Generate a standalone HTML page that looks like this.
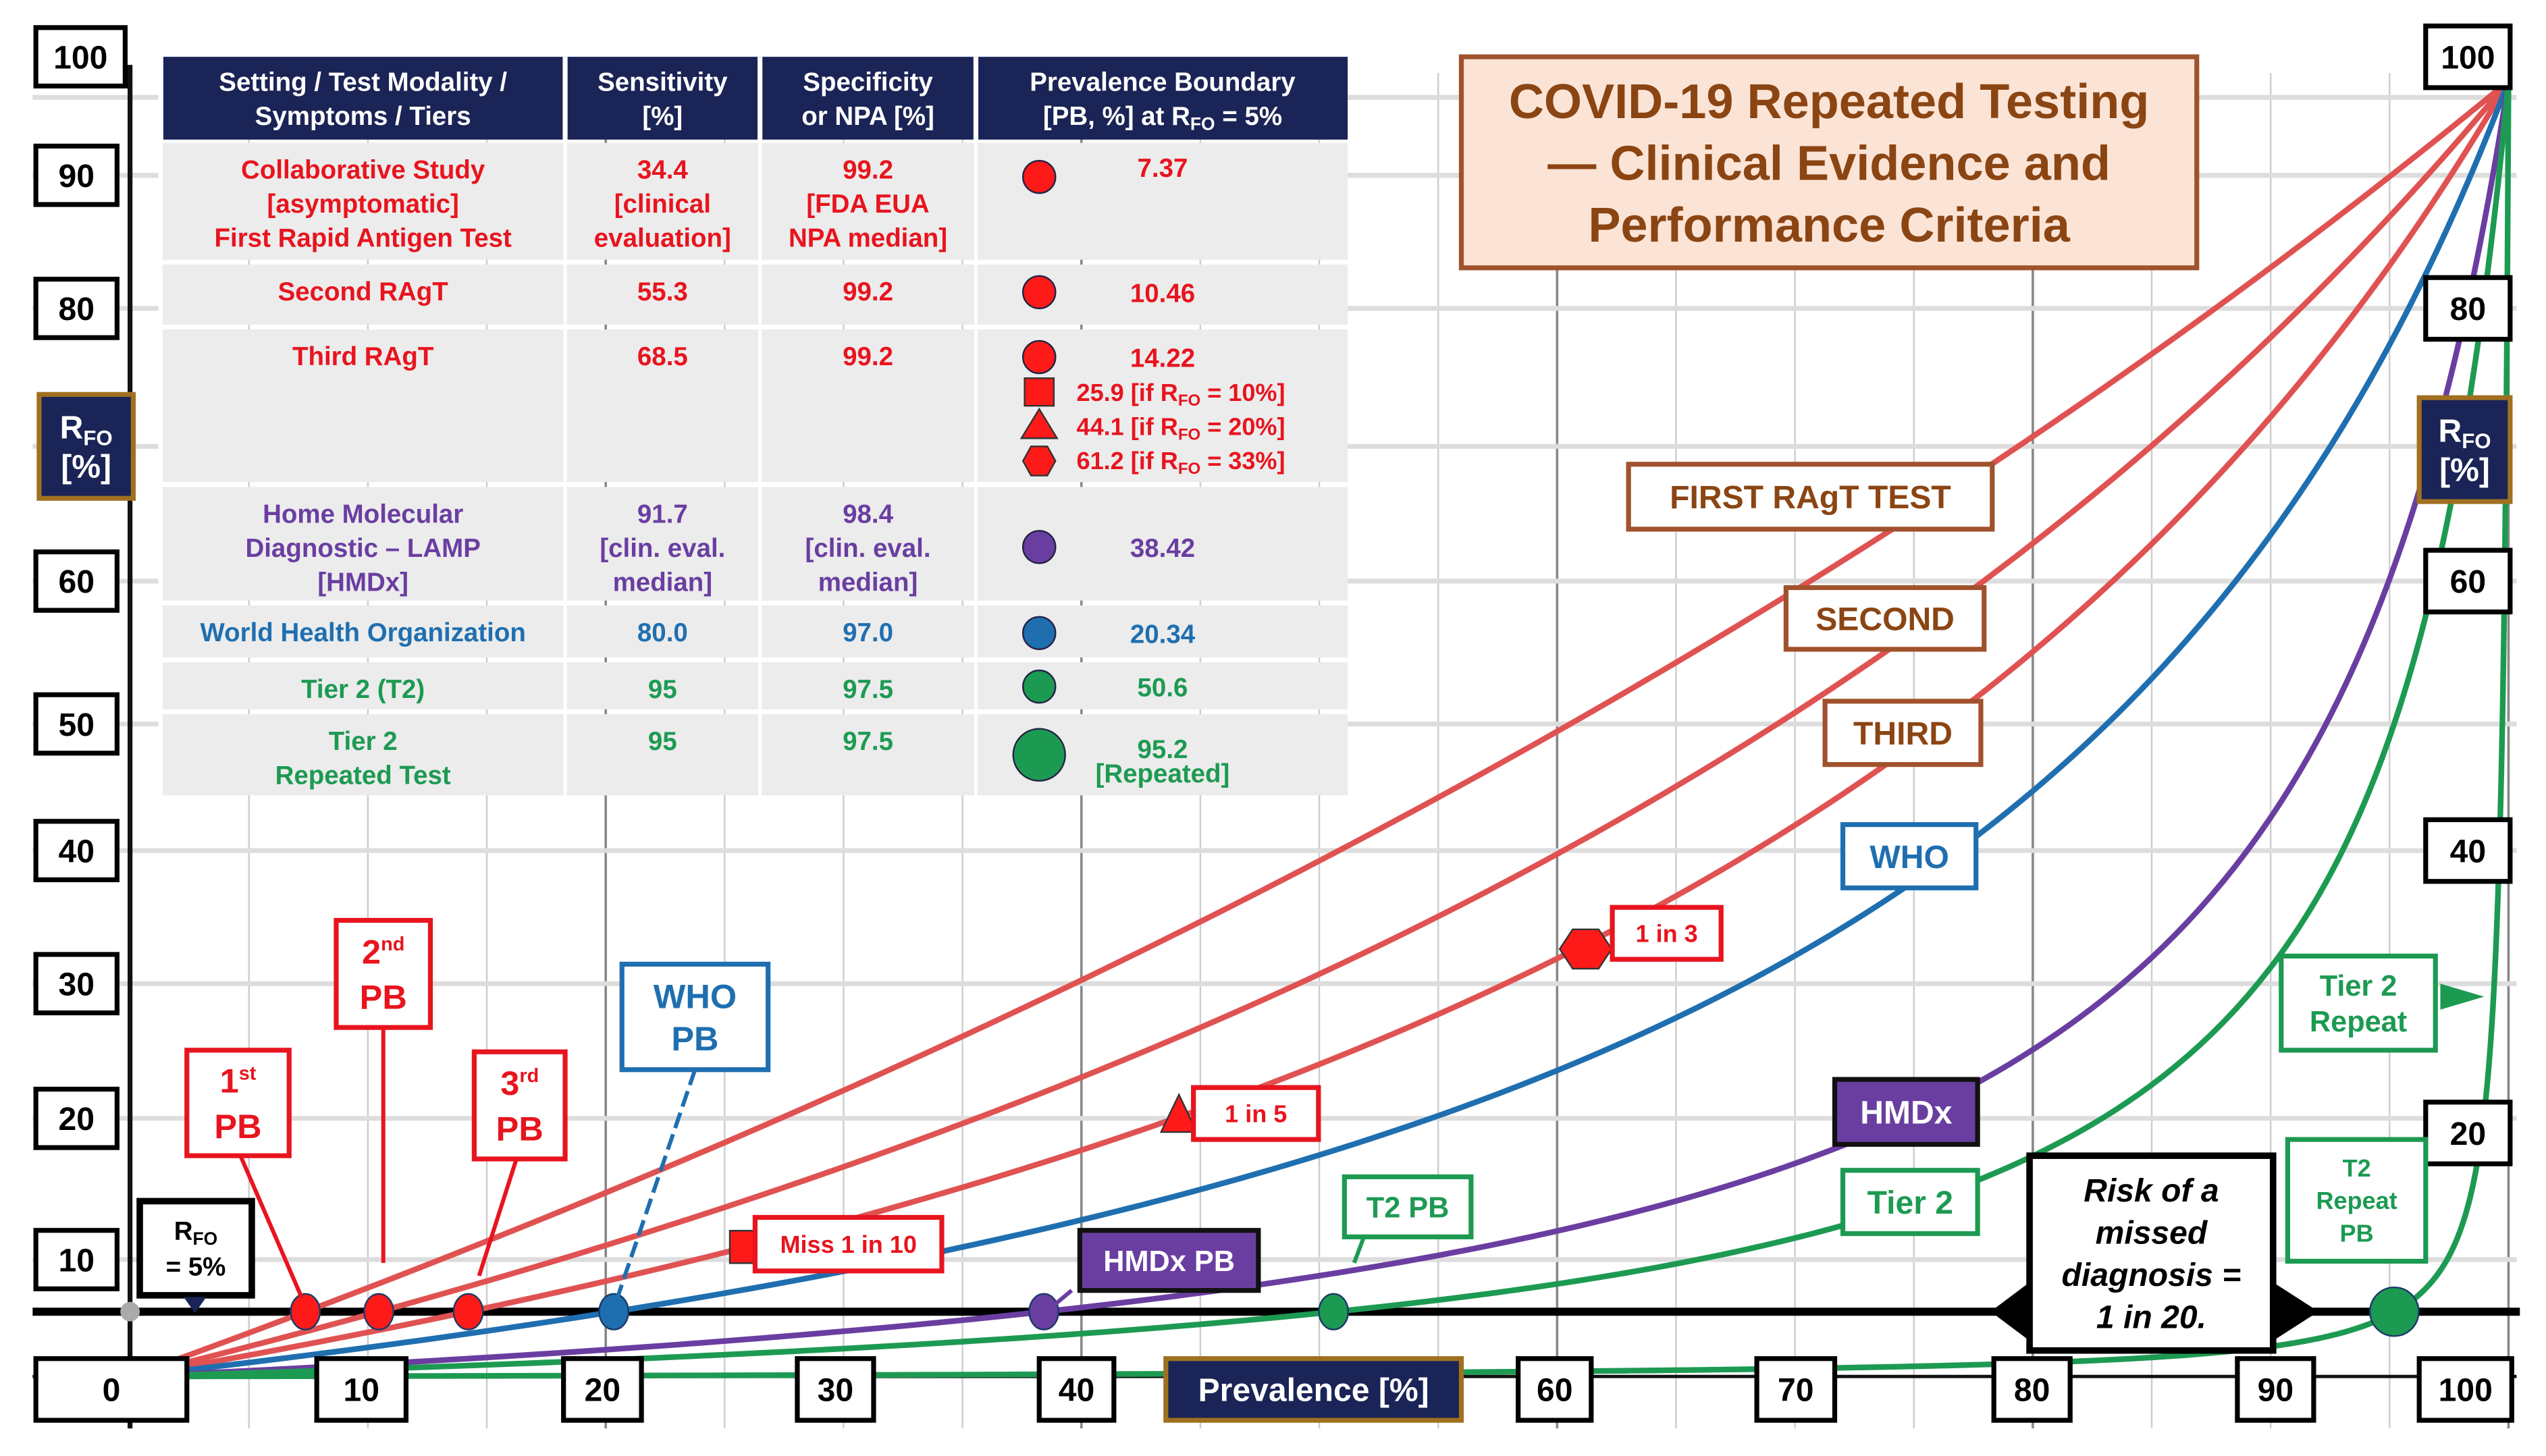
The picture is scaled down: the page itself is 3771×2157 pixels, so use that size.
<!DOCTYPE html>
<html><head><meta charset="utf-8"><style>
html,body{margin:0;padding:0;background:#fff}
svg{display:block}
text{font-family:"Liberation Sans",Arial,sans-serif;font-weight:bold}
</style></head><body>
<svg id="chart" xmlns="http://www.w3.org/2000/svg" width="3771" height="2157" viewBox="0 0 1568 897">
<g id="grid"></g>
<g id="curves"></g>
<g id="overlay"></g>
</svg>
<script>
const tests = ["First RAgT","Second RAgT","Third RAgT","WHO","HMDx","Tier 2","Tier 2 Repeated"];
const sensitivity = [34.4,55.3,68.5,80.0,91.7,95,99.75];
const specificity = [99.2,99.2,99.2,97.0,98.4,97.5,95.06];
const boundaries = [7.37,10.46,14.22,20.34,38.42,50.6,95.2];
const colors = ["#e05252","#e05252","#e05252","#1f6fb0","#6a3ea1","#1d9a52","#1d9a52"];
const rfoLine = 5;
const extraPrev = [25.9,44.1,61.2];
const extraRfo = [10,20,33];
const xTicks = [0,10,20,30,40,60,70,80,90,100];

const NS="http://www.w3.org/2000/svg";
const X=p=>80+p*14.65;
const Y=r=>848-r*7.98;
function el(tag,attrs,parent,txt){const e=document.createElementNS(NS,tag);for(const k in attrs)e.setAttribute(k,attrs[k]);if(txt!==undefined)e.textContent=txt;parent.appendChild(e);return e;}
const grid=document.getElementById('grid'),curves=document.getElementById('curves'),ov=document.getElementById('overlay');

// grid
for(let p=0;p<=100;p+=5){
  const g=el('line',{x1:X(p),x2:X(p),y1:45,y2:880,stroke:p%20===0?'#888':'#ccc','stroke-width':p%20===0?1.5:1},grid);
  
  
}
[60,108,190,275,358,446,524,606,689,776].forEach(y=>{
  const g=el('line',{x1:20,x2:1550,y1:y,y2:y,stroke:'#ddd','stroke-width':3},grid);
  
  
});
el('line',{x1:80,x2:80,y1:40,y2:880,stroke:'#111','stroke-width':3},grid);
el('line',{x1:20,x2:1550,y1:Y(0),y2:Y(0),stroke:'#111','stroke-width':2},grid);
const rl=el('line',{x1:20,x2:1552,y1:Y(rfoLine),y2:Y(rfoLine),stroke:'#000','stroke-width':5},grid);


el('circle',{cx:80,cy:Y(rfoLine),r:6,fill:'#aaa'},grid);

// curves
function rfo(p,se,sp){const q=p/100;const fn=q*(1-se/100),tn=(1-q)*sp/100;return (fn+tn)===0?100:100*fn/(fn+tn);}
tests.forEach((t,i)=>{
  let d='';const pts=[];
  for(let p=0;p<=100.0001;p+=(p<90?0.5:0.05)){pts.push([X(p),Y(rfo(p,sensitivity[i],specificity[i]))]);}
  pts.forEach((pt,j)=>d+=(j?'L':'M')+pt[0].toFixed(2)+' '+pt[1].toFixed(2));
  const c=el('path',{d:d,fill:'none',stroke:colors[i],'stroke-width':3.5},curves);
  
  
});
// PB markers
boundaries.forEach((b,i)=>{
  const m=el('ellipse',{cx:X(b),cy:Y(rfoLine),rx:i===6?15:9,ry:i===6?15:11,fill:colors[i]==="#e05252"?"#ff1a1a":colors[i],stroke:'#1a3a6a','stroke-width':1},curves);
  
  
});
// extra third-test markers
const sq=el('rect',{x:X(extraPrev[0])-10,y:Y(extraRfo[0])-10,width:20,height:20,fill:'#ff1a1a',stroke:'#333'},curves);


const tx=X(extraPrev[1]),ty=Y(extraRfo[1]);
const tr=el('polygon',{points:`${tx},${ty-14} ${tx-11},${ty+9} ${tx+11},${ty+9}`,fill:'#ff1a1a',stroke:'#333'},curves);


const hx=X(extraPrev[2]),hy=Y(extraRfo[2]);
let hp='';for(let k=0;k<6;k++){const a=Math.PI/3*k;hp+=(hx+16*Math.cos(a))+','+(hy+14*Math.sin(a))+' ';}
const hg=el('polygon',{points:hp,fill:'#ff1a1a',stroke:'#333'},curves);



// helper for labelled boxes
function box(name,x,y,w,h,lines,opt){
  const g=el('g',{},ov);
  
  
  el('rect',{x:x,y:y,width:w,height:h,fill:opt.fill||'#fff',stroke:opt.stroke||'#000','stroke-width':opt.sw||3},g);
  const fs=opt.fs||20,lh=opt.lh||fs*1.15;
  const y0=y+h/2-(lines.length-1)*lh/2+fs*0.36;
  lines.forEach((l,k)=>{const t=el('text',{x:x+w/2,y:y0+k*lh,'font-size':fs,fill:opt.color||'#000','text-anchor':'middle','font-style':opt.italic?'italic':'normal'},g);t.innerHTML=l;});
  return g;
}
// y-axis labels
[[100,35,55],[90,108,50],[80,190,50],[60,358,50],[50,446,50],[40,524,50],[30,606,50],[20,689,50],[10,776,50]].forEach(a=>box('y-tick-'+a[0],22,a[1]-18,a[2],36,[String(a[0])],{fs:20}));
[[100,35],[80,190],[60,358],[40,524],[20,698]].forEach(a=>box('y-tick-right-'+a[0],1494,a[1]-19,52,38,[String(a[0])],{fs:20}));
box('y-axis-title-left',24,243,58,64,['R<tspan font-size="13" dy="4">FO</tspan>','[%]'],{fill:'#1a2456',stroke:'#a07020',color:'#fff',fs:20,lh:24});
box('y-axis-title-right',1490,245,56,64,['R<tspan font-size="13" dy="4">FO</tspan>','[%]'],{fill:'#1a2456',stroke:'#a07020',color:'#fff',fs:20,lh:24});
// x labels
const xb={0:[22,93],10:[195,55],20:[347,48],30:[491,47],40:[640,46],60:[935,45],70:[1082,48],80:[1228,47],90:[1378,47],100:[1490,57]};
xTicks.forEach(v=>box('x-tick-'+v,xb[v][0],837,xb[v][1],38,[String(v)],{fs:20}));
box('x-axis-title',718,837,182,38,['Prevalence [%]'],{fill:'#1a2456',stroke:'#a07020',color:'#fff',fs:20});

// table
const tbl=el('g',{},ov);
const cols=[[100,247],[349,118],[469,131],[602,228]];
el('rect',{x:100,y:35,width:730,height:51,fill:'#1a2456'},tbl);
const hdr=[['Setting / Test Modality /','Symptoms / Tiers'],['Sensitivity','[%]'],['Specificity','or NPA [%]'],['Prevalence Boundary','[PB, %] at R<tspan font-size="11" dy="3">FO</tspan><tspan dy="-3"> = 5%</tspan>']];
hdr.forEach((h,i)=>{h.forEach((l,k)=>{const t=el('text',{x:cols[i][0]+cols[i][1]/2,y:56+k*21,'font-size':16,fill:'#fff','text-anchor':'middle'},tbl);t.innerHTML=l;});el('line',{x1:cols[i][0]-1,x2:cols[i][0]-1,y1:35,y2:490,stroke:'#fff','stroke-width':3},tbl);});
const rows=[[88,72,'#e8141e',[['Collaborative Study','[asymptomatic]','First Rapid Antigen Test'],['34.4','[clinical','evaluation]'],['99.2','[FDA EUA','NPA median]']]],
[163,37,'#e8141e',[['Second RAgT'],['55.3'],['99.2']]],
[203,94,'#e8141e',[['Third RAgT'],['68.5'],['99.2']]],
[300,70,'#6a3ea1',[['Home Molecular','Diagnostic – LAMP','[HMDx]'],['91.7','[clin. eval.','median]'],['98.4','[clin. eval.','median]']]],
[373,32,'#1f6fb0',[['World Health Organization'],['80.0'],['97.0']]],
[408,29,'#1d9a52',[['Tier 2 (T2)'],['95'],['97.5']]],
[440,50,'#1d9a52',[['Tier 2','Repeated Test'],['95'],['97.5']]]];
rows.forEach((r,ri)=>{
  cols.forEach(c=>el('rect',{x:c[0],y:r[0],width:c[1],height:r[1],fill:'#ececec'},tbl));
  r[3].forEach((ls,i)=>ls.forEach((l,k)=>el('text',{x:cols[i][0]+cols[i][1]/2,y:r[0]+22+k*21,'font-size':16,fill:r[2],'text-anchor':'middle'},tbl,l)));
});
const pbY=[109,180,220,337,390,423,465];
const pbTxt=['7.37','10.46','14.22','38.42','20.34','50.6','95.2'];
const pbC=['#e8141e','#e8141e','#e8141e','#6a3ea1','#1f6fb0','#1d9a52','#1d9a52'];
const pbF=['#ff1a1a','#ff1a1a','#ff1a1a','#6a3ea1','#1f6fb0','#1d9a52','#1d9a52'];
pbY.forEach((y,i)=>{el('ellipse',{cx:640,cy:i===6?y:y,rx:i===6?16:10,ry:i===6?16:10,fill:pbF[i],stroke:'#224'},tbl);el('text',{x:716,y:y-(i===6?4:i===0?-0:0)+(i===6?0:0)+(i===0?0:6)-(i===0?0:0),'font-size':16,fill:pbC[i],'text-anchor':'middle'},tbl,pbTxt[i]);});
el('text',{x:716,y:482,'font-size':16,fill:'#1d9a52','text-anchor':'middle'},tbl,'[Repeated]');
el('rect',{x:631,y:233,width:18,height:17,fill:'#ff1a1a',stroke:'#333'},tbl);
el('polygon',{points:'640,252 629,270 651,270',fill:'#ff1a1a',stroke:'#333'},tbl);
el('polygon',{points:'630,284 635,275 645,275 650,284 645,293 635,293',fill:'#ff1a1a',stroke:'#333'},tbl);
[['25.9  [if R','10%]',247],['44.1  [if R','20%]',268],['61.2  [if R','33%]',289]].forEach(a=>{const t=el('text',{x:663,y:a[2],'font-size':15,fill:'#e8141e'},tbl);t.innerHTML=a[0]+'<tspan font-size="10" dy="3">FO</tspan><tspan dy="-3"> = '+a[1]+'</tspan>';});

// title
box('chart-title',900,35,453,130,['COVID-19 Repeated Testing','— Clinical Evidence and','Performance Criteria'],{fill:'#fbe4d6',stroke:'#a0522d',color:'#8b4513',fs:30,lh:38,sw:3});
// curve labels
box('label-first-ragt',1003,286,224,40,['FIRST RAgT TEST'],{stroke:'#a0522d',color:'#8b4513',fs:20});
box('label-second',1100,362,122,38,['SECOND'],{stroke:'#a0522d',color:'#8b4513',fs:20});
box('label-third',1124,432,96,39,['THIRD'],{stroke:'#a0522d',color:'#8b4513',fs:20});
box('label-who',1135,508,82,39,['WHO'],{stroke:'#1f6fb0',color:'#1f6fb0',fs:20});
box('label-tier2-repeat',1405,589,95,58,['Tier 2','Repeat'],{stroke:'#1d9a52',color:'#1d9a52',fs:18,lh:22});
el('polygon',{points:'1503,606 1530,614 1503,622',fill:'#1d9a52'},ov);
box('label-hmdx',1130,665,88,40,['HMDx'],{fill:'#6a3ea1',stroke:'#111',color:'#fff',fs:20});
box('label-tier2',1135,721,83,39,['Tier 2'],{stroke:'#1d9a52',color:'#1d9a52',fs:20});
el('polygon',{points:'1250,790 1226,808 1250,826',fill:'#000'},ov);
el('polygon',{points:'1400,790 1428,808 1400,826',fill:'#000'},ov);
box('risk-note',1250,712,150,120,['Risk of a','missed','diagnosis =','1 in 20.'],{fs:20,lh:26,italic:true,sw:4});
box('label-t2-repeat-pb',1409,702,85,75,['T2','Repeat','PB'],{stroke:'#1d9a52',color:'#1d9a52',fs:15,lh:20});
box('label-1-in-3',993,559,67,32,['1 in 3'],{stroke:'#e8141e',color:'#e8141e',fs:15});
box('label-1-in-5',735,670,77,32,['1 in 5'],{stroke:'#e8141e',color:'#e8141e',fs:15});
box('label-miss-1-in-10',465,750,115,33,['Miss 1 in 10'],{stroke:'#e8141e',color:'#e8141e',fs:15});
box('label-hmdx-pb',665,758,110,37,['HMDx PB'],{fill:'#6a3ea1',stroke:'#111',color:'#fff',fs:18});
box('label-t2-pb',828,725,78,37,['T2 PB'],{stroke:'#1d9a52',color:'#1d9a52',fs:18});
// pointer arrows
[[148,712,186,800,'#e8141e'],[236,633,236,778,'#e8141e'],[318,714,295,786,'#e8141e'],[428,659,380,800,'#1f6fb0'],[840,762,834,778,'#1d9a52'],[660,795,648,805,'#6a3ea1']].forEach(a=>{
  const l=el('line',{x1:a[0],y1:a[1],x2:a[2],y2:a[3],stroke:a[4],'stroke-width':2.5,'stroke-dasharray':a[4]==='#1f6fb0'?'10 4':'none'},ov);
  
  
});
box('label-who-pb',383,594,90,65,['WHO','PB'],{stroke:'#1f6fb0',color:'#1f6fb0',fs:21,lh:26});
box('label-1st-pb',115,647,63,65,['1<tspan font-size="12" dy="-8">st</tspan>','PB'],{stroke:'#e8141e',color:'#e8141e',fs:21,lh:28});
box('label-2nd-pb',207,567,58,66,['2<tspan font-size="12" dy="-8">nd</tspan>','PB'],{stroke:'#e8141e',color:'#e8141e',fs:21,lh:28});
box('label-3rd-pb',292,648,56,66,['3<tspan font-size="12" dy="-8">rd</tspan>','PB'],{stroke:'#e8141e',color:'#e8141e',fs:21,lh:28});
box('label-rfo-5',86,740,69,58,['R<tspan font-size="11" dy="3">FO</tspan>','= 5%'],{fs:16,lh:22,sw:4});
el('polygon',{points:'113,799 127,799 120,809',fill:'#1a2456'},ov);
</script>
</body></html>
